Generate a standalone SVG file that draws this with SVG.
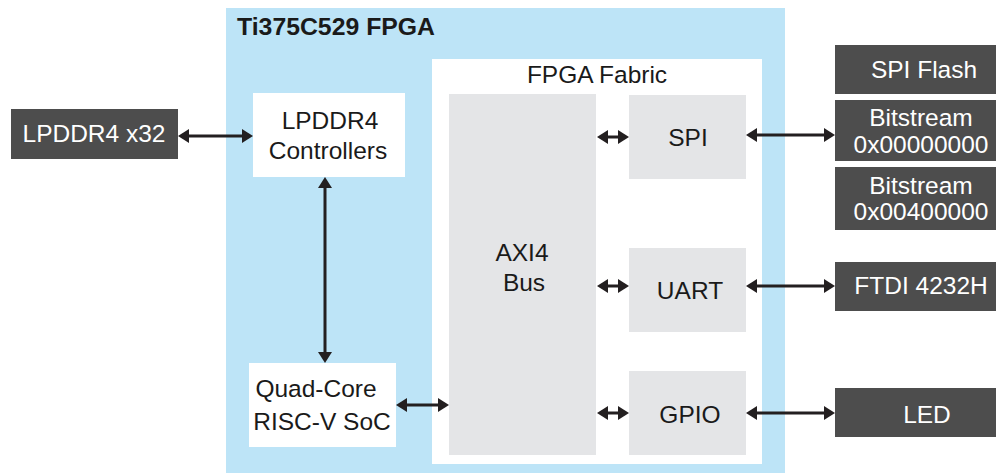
<svg xmlns="http://www.w3.org/2000/svg" width="996" height="474" viewBox="0 0 996 474">
<defs>
<marker id="ah" markerUnits="userSpaceOnUse" markerWidth="11" markerHeight="14" refX="7" refY="7" orient="auto-start-reverse" viewBox="0 0 11 14">
<path d="M0,0 L11,7 L0,14 z" fill="#231f20"/>
</marker>
<style>
text{font-family:"Liberation Sans",Arial,sans-serif;font-size:24.5px;fill:#1a1a1a}
.w{fill:#ffffff}
.c{text-anchor:middle}
.dark{fill:#4d4d4d}
.gray{fill:#e4e5e7}
.wb{fill:#ffffff}
.ln{stroke:#231f20;stroke-width:3;fill:none;marker-start:url(#ah);marker-end:url(#ah)}
</style>
</defs>
<rect width="996" height="474" fill="#ffffff"/>
<g id="fpga">
<rect x="226" y="8" width="559" height="465" fill="#bde4f7"/>
<text x="237" y="35" style="font-weight:bold;font-size:24.8px">Ti375C529 FPGA</text>
</g>
<g id="fabric">
<rect x="432" y="59" width="330" height="405" class="wb"/>
<text x="597" y="83" class="c">FPGA Fabric</text>
</g>
<g id="axi">
<rect x="449" y="94" width="147" height="361" class="gray"/>
<text x="522" y="261" class="c">AXI4</text>
<text x="524" y="291" class="c">Bus</text>
</g>
<g id="spi">
<rect x="629" y="95" width="117" height="84" class="gray"/>
<text x="688" y="146" class="c">SPI</text>
</g>
<g id="uart">
<rect x="629" y="248" width="117" height="84" class="gray"/>
<text x="690" y="299" class="c">UART</text>
</g>
<g id="gpio">
<rect x="629" y="371" width="117" height="84" class="gray"/>
<text x="690" y="423" class="c">GPIO</text>
</g>
<g id="lpddr_ctrl">
<rect x="253" y="93" width="152" height="84" class="wb"/>
<text x="330" y="129" class="c">LPDDR4</text>
<text x="328" y="159" class="c">Controllers</text>
</g>
<g id="soc">
<rect x="249" y="363" width="147" height="84" class="wb"/>
<text x="316" y="397" class="c">Quad-Core</text>
<text x="322" y="430" class="c">RISC-V SoC</text>
</g>
<g id="lpddr_x32">
<rect x="11" y="109" width="167" height="50" class="dark"/>
<text x="94" y="142" class="c w">LPDDR4 x32</text>
</g>
<g id="spi_flash">
<rect x="835" y="45" width="161" height="49" class="dark"/>
<text x="924" y="78" class="c w">SPI Flash</text>
</g>
<g id="bitstream0">
<rect x="835" y="100" width="161" height="61" class="dark"/>
<text x="921" y="126" class="c w">Bitstream</text>
<text x="921" y="153" class="c w">0x00000000</text>
</g>
<g id="bitstream1">
<rect x="835" y="167" width="161" height="63" class="dark"/>
<text x="921" y="194" class="c w">Bitstream</text>
<text x="921" y="220" class="c w">0x00400000</text>
</g>
<g id="ftdi">
<rect x="835" y="262" width="161" height="49" class="dark"/>
<text x="921" y="294" class="c w">FTDI 4232H</text>
</g>
<g id="led">
<rect x="835" y="388" width="161" height="49" class="dark"/>
<text x="927" y="423" class="c w">LED</text>
</g>
<g id="connectors">
<line class="ln" x1="182" y1="136" x2="249" y2="136"/>
<line class="ln" x1="325" y1="181" x2="325" y2="359"/>
<line class="ln" x1="400" y1="405" x2="445" y2="405"/>
<line class="ln" x1="601" y1="137" x2="625" y2="137"/>
<line class="ln" x1="601" y1="286" x2="625" y2="286"/>
<line class="ln" x1="601" y1="413" x2="625" y2="413"/>
<line class="ln" x1="750" y1="135" x2="831" y2="135"/>
<line class="ln" x1="750" y1="286" x2="831" y2="286"/>
<line class="ln" x1="750" y1="413" x2="831" y2="413"/>
</g>
</svg>
